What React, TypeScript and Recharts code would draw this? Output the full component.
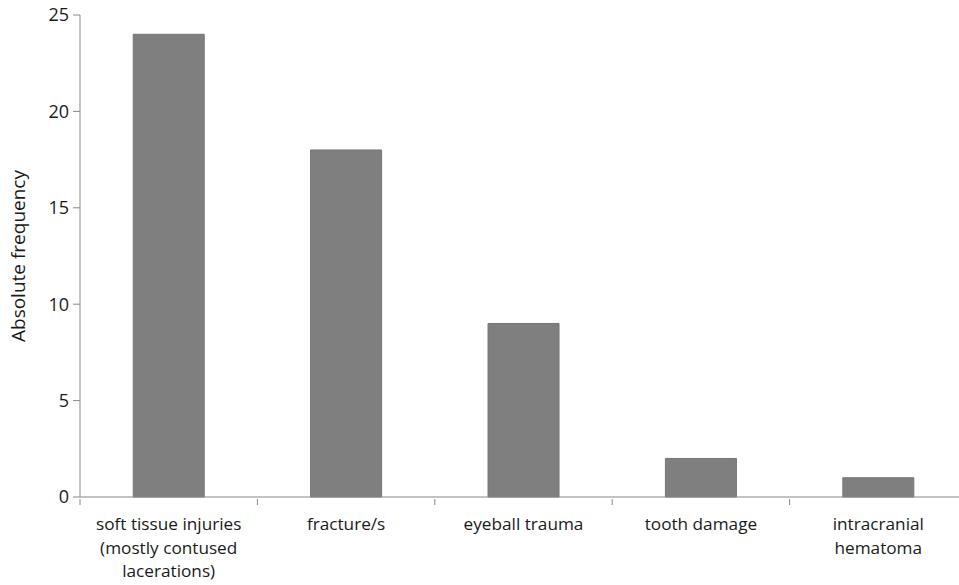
import { Bar, BarChart, XAxis, YAxis, Label } from 'recharts';

const categories = [
    "soft tissue injuries (mostly contused lacerations)",
    "fracture/s",
    "eyeball trauma",
    "tooth damage",
    "intracranial hematoma",
];
const frequency = [24, 18, 9, 2, 1];
const tickLines = [
    ["soft tissue injuries", "(mostly contused", "lacerations)"],
    ["fracture/s"],
    ["eyeball trauma"],
    ["tooth damage"],
    ["intracranial", "hematoma"],
];
const yTicks = [0, 5, 10, 15, 20, 25];

const data = categories.map((name, i) => ({ name, value: frequency[i] }));

const font = "'Open Sans', sans-serif";
const chartW = 982;
const marginL = 80;
const marginR = 15;
const band = (chartW - marginL - marginR) / categories.length;

// label plus a tick mark on the left edge of each category (excel style)
const CategoryTick = ({ x, y, index }: any) => {
    const lines = tickLines[index] || [];
    const left = x - band / 2;
    const right = x + band / 2;
    return (
        <g>
            <line x1={left} y1={y - 6} x2={left} y2={y} stroke="#888" />
            {index === categories.length - 1 && <line x1={right} y1={y - 6} x2={right} y2={y} stroke="#888" />}
            <text x={x} y={y + 25} textAnchor="middle" fill="#1a1a1a" fontSize={17.2} fontFamily={font}>
                {lines.map((line, i) => (
                    <tspan key={i} x={x} dy={i === 0 ? 0 : 23.5}>{line}</tspan>
                ))}
            </text>
        </g>
    );
};

const App = () => {
    return (
        <div style={{ position: "absolute", left: 0, top: 0, width: 959, height: 585, overflow: "hidden", background: "#fff" }}>
            <BarChart
                width={chartW}
                height={585}
                data={data}
                margin={{ top: 15, right: marginR, left: 0, bottom: 0 }}
                barCategoryGap="30%"
            >
                <XAxis
                    dataKey="name"
                    interval={0}
                    height={88}
                    stroke="#888"
                    tickSize={6}
                    tickLine={false}
                    tick={<CategoryTick />}
                />
                <YAxis
                    domain={[0, 25]}
                    ticks={yTicks}
                    width={marginL}
                    stroke="#888"
                    tickSize={7}
                    tickMargin={4}
                    tick={{ fill: "#1a1a1a", fontSize: 18, fontFamily: font }}
                >
                    <Label
                        value="Absolute frequency"
                        angle={-90}
                        position="insideLeft"
                        offset={18}
                        style={{ textAnchor: "middle", fill: "#1a1a1a", fontSize: 19, fontFamily: font }}
                    />
                </YAxis>
                <Bar dataKey="value" fill="#7f7f7f" stroke="#777" strokeWidth={1} isAnimationActive={false} />
            </BarChart>
        </div>
    );
};

export default App;
